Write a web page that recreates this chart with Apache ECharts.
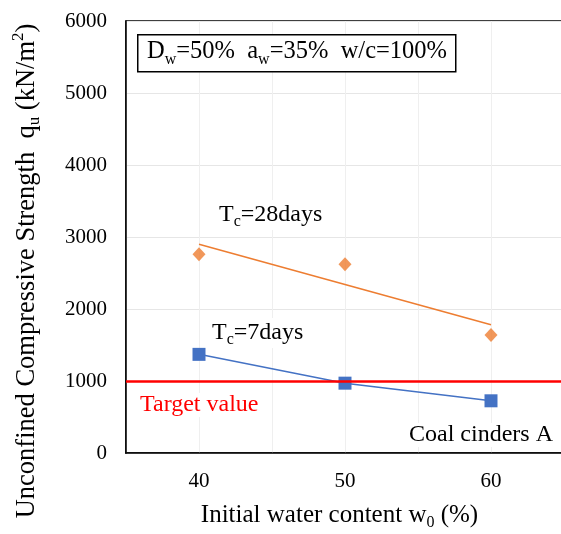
<!DOCTYPE html>
<html><head><meta charset="utf-8">
<script src="https://cdn.jsdelivr.net/npm/echarts@6/dist/echarts.min.js"></script>
<style>html,body{margin:0;padding:0;background:#fff}#c{width:561px;height:534px}</style>
</head><body><div id="c"></div>
<script>
// ---- data ----
const waterContent = [40, 50, 60];
const strength28 = [2760, 2620, 1640];
const strength7 = [1370, 970, 725];
const targetValue = 1000;
const xLabelTicks = [40, 50, 60];
const yTicks = [0, 1000, 2000, 3000, 4000, 5000, 6000];

// least-squares trend line for 28 days
const n = waterContent.length;
const mx = waterContent.reduce((a, b) => a + b, 0) / n;
const my = strength28.reduce((a, b) => a + b, 0) / n;
let sxy = 0, sxx = 0;
for (let i = 0; i < n; i++) { sxy += (waterContent[i] - mx) * (strength28[i] - my); sxx += (waterContent[i] - mx) ** 2; }
const slope = sxy / sxx, icpt = my - slope * mx;
const xFirst = waterContent[0], xLast = waterContent[n - 1];
const trend28 = [[xFirst, icpt + slope * xFirst], [xLast, icpt + slope * xLast]];

const FF = "'Liberation Serif','Times New Roman',serif";
function rich(size) {
  const sub = Math.round(size * 0.65);
  return {
    n: { fontFamily: FF, fontSize: size, lineHeight: Math.round(size * 1.25), color: '#000', verticalAlign: 'middle' },
    s: { fontFamily: FF, fontSize: sub, lineHeight: sub, color: '#000', verticalAlign: 'bottom' },
    p: { fontFamily: FF, fontSize: sub, lineHeight: sub, color: '#000', verticalAlign: 'top' }
  };
}

const chart = echarts.init(document.getElementById('c'), null, { renderer: 'canvas' });
chart.setOption({
  backgroundColor: '#fff',
  animation: false,
  grid: { left: 126, top: 21, width: 438, height: 432, show: true, borderColor: '#000', borderWidth: 1.5,
    containLabel: false, outerBoundsMode: 'none' },
  xAxis: {
    type: 'value', min: 35, max: 65, interval: 5,
    axisLine: { show: true, lineStyle: { color: '#000', width: 1.5 } },
    axisTick: { show: false },
    splitLine: { show: true, lineStyle: { color: '#EFEFEF', width: 1 } },
    axisLabel: { margin: 18, fontFamily: FF, fontSize: 21, color: '#000',
      formatter: v => xLabelTicks.indexOf(v) >= 0 ? String(v) : '' },
    name: '{n|Initial water content w}{s|0}{n| (%)}',
    nameLocation: 'middle', nameGap: 47,
    nameTextStyle: { rich: rich(25), padding: [0, 11, 0, 0] }
  },
  yAxis: {
    type: 'value', min: yTicks[0], max: yTicks[yTicks.length - 1], interval: 1000,
    axisLine: { show: true, lineStyle: { color: '#000', width: 1.5 } },
    axisTick: { show: false },
    splitLine: { show: true, lineStyle: { color: '#E6E6E6', width: 1 } },
    axisLabel: { margin: 19, fontFamily: FF, fontSize: 21, color: '#000', formatter: v => String(v) }
  },
  series: [
    {
      name: 'trend28', type: 'line', data: trend28, showSymbol: false, z: 2,
      lineStyle: { color: '#ED7D31', width: 1.5 },
      markLine: {
        silent: true, symbol: 'none', label: { show: false },
        lineStyle: { color: '#FF0000', width: 2.5, type: 'solid' },
        data: [{ yAxis: targetValue }]
      }
    },
    {
      name: 'Tc=28days', type: 'scatter', z: 4,
      data: waterContent.map((x, i) => [x, strength28[i]]),
      symbol: 'diamond', symbolSize: [13, 14],
      itemStyle: { color: '#ED7D31' }
    },
    {
      name: 'Tc=7days', type: 'line', z: 3,
      data: waterContent.map((x, i) => [x, strength7[i]]),
      symbol: 'rect', symbolSize: 13, showSymbol: true,
      lineStyle: { color: '#4472C4', width: 1.5 },
      itemStyle: { color: '#4472C4' }
    }
  ],
  graphic: [
    { type: 'rect', left: 137, top: 34, shape: { width: 318, height: 37 }, z: 10,
      style: { fill: '#fff', stroke: '#000', lineWidth: 1.5 } },
    { type: 'text', x: 297, y: 52, z: 11,
      style: { text: '{n|D}{s|w}{n|=50%  a}{s|w}{n|=35%  w/c=100%}', rich: rich(24.5), align: 'center', verticalAlign: 'middle' } },
    { type: 'text', x: 219, y: 215, z: 11,
      style: { text: '{n|T}{s|c}{n|=28days}', rich: rich(24), align: 'left', verticalAlign: 'middle', backgroundColor: '#fff' } },
    { type: 'text', x: 212, y: 333, z: 11,
      style: { text: '{n|T}{s|c}{n|=7days}', rich: rich(24), align: 'left', verticalAlign: 'middle', backgroundColor: '#fff' } },
    { type: 'text', x: 140, y: 405, z: 11,
      style: { text: 'Target value', fontFamily: FF, fontSize: 24, fill: '#FF0000', align: 'left', verticalAlign: 'middle', backgroundColor: '#fff' } },
    { type: 'text', x: 409, y: 435, z: 11,
      style: { text: 'Coal cinders A', fontFamily: FF, fontSize: 24, fill: '#000', align: 'left', verticalAlign: 'middle', backgroundColor: '#fff' } },
    { type: 'text', x: 27, y: 271, rotation: Math.PI / 2, z: 11,
      style: { text: '{n|Unconfined Compressive Strength  q}{s|u}{n| (kN/m}{p|2}{n|)}', rich: rich(26.5), align: 'center', verticalAlign: 'middle' } }
  ]
});
</script></body></html>
